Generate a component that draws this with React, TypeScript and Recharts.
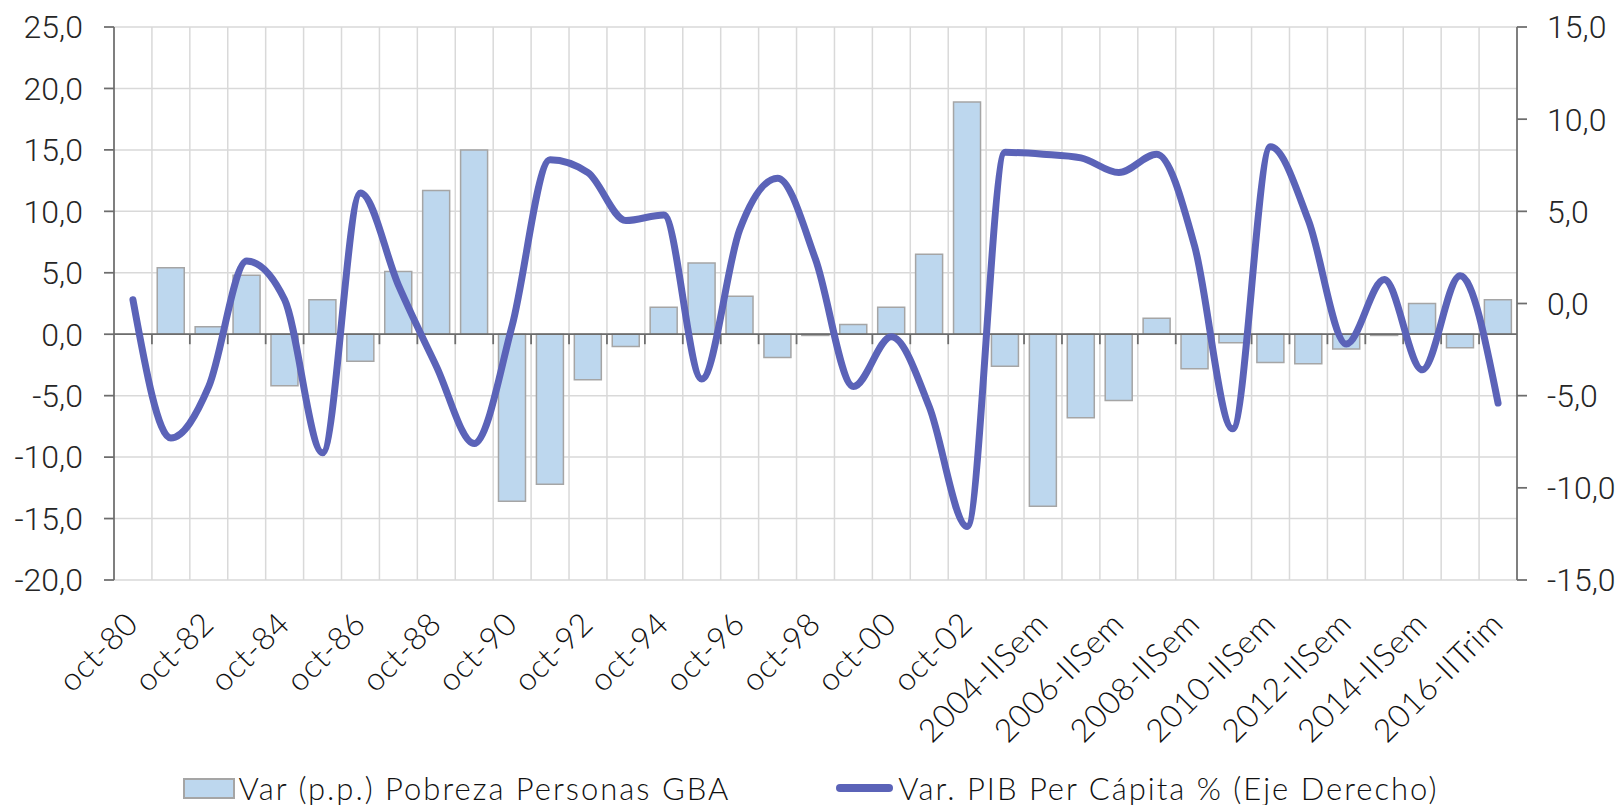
import { ComposedChart, Bar, Line, XAxis, YAxis, CartesianGrid, ReferenceLine, Legend } from "recharts";

const categories = [
  "oct-80", "oct-81", "oct-82", "oct-83", "oct-84", "oct-85", "oct-86", "oct-87", "oct-88", "oct-89",
  "oct-90", "oct-91", "oct-92", "oct-93", "oct-94", "oct-95", "oct-96", "oct-97", "oct-98", "oct-99",
  "oct-00", "oct-01", "oct-02", "2003-IISem", "2004-IISem", "2005-IISem", "2006-IISem", "2007-IISem",
  "2008-IISem", "2009-IISem", "2010-IISem", "2011-IISem", "2012-IISem", "2013-IISem", "2014-IISem",
  "2015-ISem", "2016-IITrim",
];

// Var (p.p.) Pobreza Personas GBA
const pobreza = [
  null, 5.4, 0.6, 4.8, -4.2, 2.8, -2.2, 5.1, 11.7, 15.0, -13.6, -12.2, -3.7, -1.0, 2.2, 5.8, 3.1, -1.9,
  -0.1, 0.8, 2.2, 6.5, 18.9, -2.6, -14.0, -6.8, -5.4, 1.3, -2.8, -0.7, -2.3, -2.4, -1.2, -0.1, 2.5, -1.1, 2.8,
];

// Var. PIB Per Cápita % (eje derecho)
const pib = [
  0.2, -7.3, -4.5, 2.3, 0.2, -8.1, 6.0, 1.0, -3.4, -7.6, -1.2, 7.8, 7.1, 4.5, 4.8, -4.1, 4.0, 6.8, 2.4,
  -4.5, -1.8, -5.6, -12.1, 8.2, 8.1, 7.9, 7.1, 8.1, 3.1, -6.8, 8.5, 4.5, -2.2, 1.3, -3.6, 1.5, -5.4,
];

const leftTicks = [-20, -15, -10, -5, 0, 5, 10, 15, 20, 25];
const rightTicks = [-15, -10, -5, 0, 5, 10, 15];

const data = categories.map((name, i) => ({ name, pobreza: pobreza[i], pib: pib[i] }));

const fmt = (v: number) => v.toFixed(1).replace(".", ",");

const axisColor = "#6d6d6d";
const gridColor = "#d9d9d9";
const barFill = "#bdd7ee";
const barStroke = "#a5a5a5";
const lineColor = "#5b63b8";

const XTick = (props: any) => {
  const { x, y, payload } = props;
  const tx = x + 7;
  const ty = y + 38;
  return (
    <text
      x={tx}
      y={ty}
      transform={`rotate(-45 ${tx} ${ty})`}
      textAnchor="end"
      fontFamily="Lato, sans-serif"
      fontWeight={300}
      fontSize={32}
      letterSpacing={0.5}
      fill="#111"
    >
      {payload.value}
    </text>
  );
};

const ZeroAxis = (props: any) => {
  const { x1, y1, x2 } = props;
  const n = categories.length;
  const step = (x2 - x1) / n;
  const marks = [];
  for (let k = 1; k < n; k++) {
    const xx = x1 + k * step;
    marks.push(<line key={k} x1={xx} x2={xx} y1={y1} y2={y1 + 10} stroke={axisColor} strokeWidth={1.75} />);
  }
  return (
    <g>
      <line x1={x1} x2={x2} y1={y1} y2={y1} stroke={axisColor} strokeWidth={1.75} />
      {marks}
    </g>
  );
};

const LegendContent = () => (
  <div style={{ height: 50, paddingTop: 18, boxSizing: "border-box" }}>
    <div
      style={{
        display: "flex",
        justifyContent: "center",
        alignItems: "center",
        height: 30,
        gap: 106,
        fontFamily: "Lato, sans-serif",
        fontWeight: 300,
        fontSize: 31,
        letterSpacing: 2,
        color: "#111",
        whiteSpace: "nowrap",
      }}
    >
      <div style={{ display: "flex", alignItems: "center" }}>
        <span
          style={{
            display: "inline-block",
            width: 48,
            height: 17,
            background: barFill,
            border: `2px solid ${barStroke}`,
            marginRight: 4,
          }}
        />
        Var (p.p.) Pobreza Personas GBA
      </div>
      <div style={{ display: "flex", alignItems: "center" }}>
        <span
          style={{
            display: "inline-block",
            width: 57,
            height: 8,
            borderRadius: 4,
            background: lineColor,
            marginRight: 5,
          }}
        />
        Var. PIB Per Cápita % (Eje Derecho)
      </div>
    </div>
  </div>
);

export default function App() {
  return (
    <div style={{ position: "absolute", left: 0, top: 0, background: "#fff" }}>
      <ComposedChart
        width={1621}
        height={805}
        data={data}
        margin={{ top: 27, right: 0, bottom: 0, left: 0 }}
        barCategoryGap="14%"
      >
        <CartesianGrid
          stroke={gridColor}
          strokeWidth={1.5}
          yAxisId="left"
          verticalCoordinatesGenerator={({ offset }: any) => {
            const n = categories.length;
            const out: number[] = [];
            for (let k = 1; k < n; k++) out.push(offset.left + (k * offset.width) / n);
            return out;
          }}
        />
        <XAxis
          dataKey="name"
          interval={1}
          axisLine={false}
          tickLine={false}
          height={175}
          tick={<XTick />}
        />
        <YAxis
          yAxisId="left"
          domain={[-20, 25]}
          ticks={leftTicks}
          width={114}
          tickFormatter={fmt}
          tickSize={10}
          tickMargin={21}
          axisLine={{ stroke: axisColor, strokeWidth: 1.75 }}
          tickLine={{ stroke: axisColor, strokeWidth: 1.75 }}
          tick={{ fontFamily: "Roboto, sans-serif", fontWeight: 300, fontSize: 32, fill: "#262626" }}
        />
        <YAxis
          yAxisId="right"
          orientation="right"
          domain={[-15, 15]}
          ticks={rightTicks}
          width={104}
          tickFormatter={fmt}
          tickSize={10}
          tickMargin={20}
          axisLine={{ stroke: axisColor, strokeWidth: 1.75 }}
          tickLine={{ stroke: axisColor, strokeWidth: 1.75 }}
          tick={{ fontFamily: "Roboto, sans-serif", fontWeight: 300, fontSize: 32, fill: "#262626" }}
        />
        <Bar
          yAxisId="left"
          dataKey="pobreza"
          fill={barFill}
          stroke={barStroke}
          strokeWidth={1.5}
          isAnimationActive={false}
        />
        <ReferenceLine yAxisId="left" y={0} shape={<ZeroAxis />} />
        <Line
          yAxisId="right"
          type="monotone"
          dataKey="pib"
          stroke={lineColor}
          strokeWidth={7}
          strokeLinecap="round"
          strokeLinejoin="round"
          dot={false}
          activeDot={false}
          isAnimationActive={false}
        />
        <Legend verticalAlign="bottom" content={<LegendContent />} />
      </ComposedChart>
    </div>
  );
}
